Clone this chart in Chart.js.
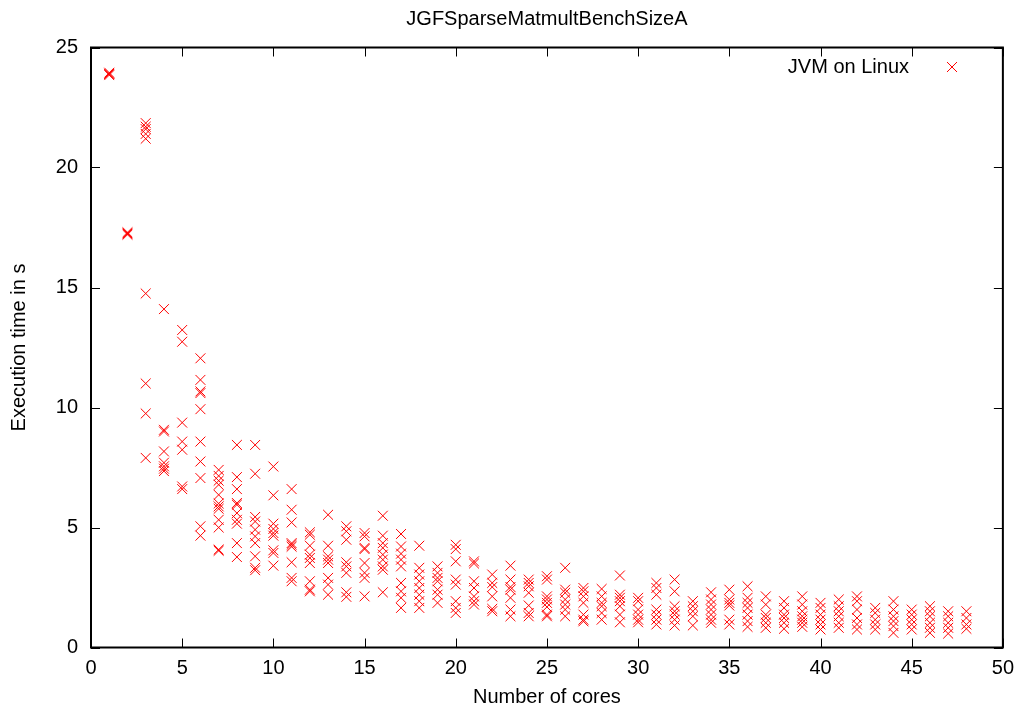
<!DOCTYPE html>
<html>
<head>
<meta charset="utf-8">
<script src="https://cdn.jsdelivr.net/npm/chart.js@4"></script>
<style>
  html, body { margin: 0; padding: 0; background: #fff; }
  #wrap { width: 1023px; height: 709px; }
</style>
</head>
<body>
<div id="wrap"><canvas id="chart" width="1023" height="709"></canvas></div>
<script>
// number of cores, one entry per column of measurements
var cores = [];
for (let c = 1; c <= 48; c += 1) cores.push(c);

// execution times (s), one list per core count
var times = [
  [23.95, 23.9, 23.85, 23.9],
  [17.25, 17.2, 17.3],
  [21.85, 21.7, 21.6, 21.4, 21.2, 14.75, 11.0, 9.75, 7.9],
  [14.1, 9.07, 9.0, 8.17, 7.7, 7.55, 7.45, 7.35],
  [13.23, 12.74, 9.37, 8.58, 8.24, 6.71, 6.6],
  [12.05, 11.15, 10.67, 10.6, 9.93, 8.58, 7.75, 7.06, 5.05, 4.66],
  [7.4, 7.15, 6.95, 6.78, 6.36, 6.0, 5.88, 5.78, 5.32, 5.0, 4.08, 4.03],
  [8.44, 7.1, 6.6, 6.02, 5.95, 5.6, 5.32, 5.16, 4.35, 3.77],
  [8.44, 7.24, 5.44, 5.25, 4.91, 4.63, 4.35, 3.8, 3.32, 3.22],
  [7.54, 6.34, 5.16, 4.94, 4.77, 4.66, 4.05, 3.94, 3.41],
  [6.6, 5.74, 5.21, 4.35, 4.28, 4.2, 3.55, 2.9, 2.76],
  [4.8, 4.7, 4.24, 3.87, 3.73, 3.52, 2.76, 2.41, 2.34],
  [5.53, 4.24, 3.8, 3.66, 3.52, 2.9, 2.62, 2.2],
  [5.05, 4.84, 4.49, 3.55, 3.38, 3.11, 2.3, 2.11],
  [4.77, 4.63, 4.15, 4.1, 3.52, 3.11, 2.9, 2.13],
  [5.49, 4.66, 4.35, 4.15, 3.87, 3.66, 3.38, 3.24, 2.3],
  [4.73, 4.21, 3.91, 3.66, 3.38, 2.69, 2.34, 2.07, 1.65],
  [4.24, 3.32, 3.04, 2.76, 2.48, 2.2, 1.93, 1.65],
  [3.38, 3.11, 2.9, 2.76, 2.41, 2.2, 1.86],
  [4.28, 4.1, 3.59, 2.83, 2.62, 1.93, 1.65, 1.44],
  [3.59, 3.5, 2.76, 2.48, 2.13, 1.93, 1.79],
  [3.04, 2.69, 2.52, 2.13, 1.61, 1.51],
  [3.41, 2.83, 2.52, 2.41, 2.07, 1.58, 1.3],
  [2.83, 2.69, 2.55, 2.28, 1.75, 1.44, 1.3],
  [2.97, 2.83, 2.13, 2.0, 1.86, 1.69, 1.37, 1.3],
  [3.32, 2.41, 2.28, 2.0, 1.79, 1.58, 1.3],
  [2.48, 2.34, 2.13, 1.86, 1.37, 1.16, 1.09],
  [2.44, 2.13, 1.86, 1.72, 1.44, 1.16],
  [3.0, 2.2, 2.07, 1.93, 1.72, 1.37, 1.05],
  [2.07, 1.93, 1.58, 1.37, 1.16, 1.05],
  [2.69, 2.48, 2.2, 1.58, 1.37, 1.16, 0.96],
  [2.83, 2.34, 1.72, 1.51, 1.37, 1.16, 0.92],
  [1.93, 1.72, 1.51, 1.3, 0.92],
  [2.3, 2.0, 1.79, 1.58, 1.37, 1.16, 1.03],
  [2.41, 2.0, 1.86, 1.75, 1.16, 0.96],
  [2.55, 2.07, 1.86, 1.65, 1.37, 1.1, 0.86],
  [2.13, 1.79, 1.37, 1.23, 1.03, 0.82],
  [1.93, 1.65, 1.37, 1.23, 1.03, 0.78],
  [2.13, 1.79, 1.51, 1.3, 1.16, 1.03, 0.86],
  [1.86, 1.65, 1.37, 1.16, 0.96, 0.75],
  [2.0, 1.72, 1.51, 1.3, 1.03, 0.82],
  [2.13, 1.93, 1.58, 1.23, 0.96, 0.75],
  [1.65, 1.44, 1.16, 0.96, 0.75],
  [1.93, 1.58, 1.3, 1.1, 0.89, 0.61],
  [1.58, 1.37, 1.16, 0.96, 0.75],
  [1.72, 1.51, 1.3, 1.03, 0.82, 0.61],
  [1.51, 1.3, 1.03, 0.82, 0.58],
  [1.51, 1.23, 0.96, 0.78]
];

var xTicks = [0, 5, 10, 15, 20, 25, 30, 35, 40, 45, 50];
var yTicks = [0, 5, 10, 15, 20, 25];
var seriesName = "JVM on Linux";
var chartTitle = "JGFSparseMatmultBenchSizeA";

var points = [];
for (let i = 0; i < cores.length; i += 1) {
  for (let j = 0; j < times[i].length; j += 1) {
    points.push({ x: cores[i], y: times[i][j] });
  }
}

var FONT = "'Liberation Sans', Arial, sans-serif";
var FS = 20;

// gnuplot style: title centred over the plot, border + inward ticks, legend inside
var framePlugin = {
  id: "frame",
  afterDatasetsDraw: function (chart) {
    var ctx = chart.ctx;
    var a = chart.chartArea;
    var xs = chart.scales.x, ys = chart.scales.y;
    var tl = 9;
    ctx.save();
    ctx.strokeStyle = "#000";
    ctx.lineWidth = 1;
    ctx.beginPath();
    xTicks.forEach(function (v) {
      var px = Math.round(xs.getPixelForValue(v)) + 0.5;
      ctx.moveTo(px, a.bottom); ctx.lineTo(px, a.bottom - tl);
      ctx.moveTo(px, a.top); ctx.lineTo(px, a.top + tl);
    });
    yTicks.forEach(function (v) {
      var py = Math.round(ys.getPixelForValue(v)) + 0.5;
      ctx.moveTo(a.left, py); ctx.lineTo(a.left + tl, py);
      ctx.moveTo(a.right, py); ctx.lineTo(a.right - tl, py);
    });
    ctx.stroke();
    ctx.lineWidth = 2;
    ctx.strokeRect(a.left, a.top, a.right - a.left, a.bottom - a.top);

    ctx.font = FS + "px " + FONT;
    ctx.fillStyle = "#000";
    ctx.textBaseline = "alphabetic";

    // title
    ctx.textAlign = "center";
    ctx.fillText(chartTitle, (a.left + a.right) / 2, 25);

    // legend
    ctx.textAlign = "right";
    ctx.fillText(seriesName, 909, 72.5);
    var mx = 952, my = 67, r = 5;
    ctx.strokeStyle = "red";
    ctx.lineWidth = 1;
    ctx.beginPath();
    ctx.moveTo(mx - r, my - r); ctx.lineTo(mx + r, my + r);
    ctx.moveTo(mx - r, my + r); ctx.lineTo(mx + r, my - r);
    ctx.stroke();
    ctx.restore();
  }
};

var chart = new Chart(document.getElementById("chart").getContext("2d"), {
  type: "scatter",
  data: {
    datasets: [
      {
        label: seriesName,
        data: points,
        pointStyle: "crossRot",
        pointRadius: 7,
        pointHoverRadius: 7,
        borderColor: "red",
        backgroundColor: "red",
        borderWidth: 1
      }
    ]
  },
  options: {
    responsive: false,
    animation: false,
    layout: { padding: { top: 47.5, right: 19, bottom: 0, left: 0 } },
    plugins: {
      legend: { display: false },
      tooltip: { enabled: false },
      title: { display: false }
    },
    scales: {
      x: {
        type: "linear",
        min: 0,
        max: 50,
        afterBuildTicks: function (s) { s.ticks = xTicks.map(function (v) { return { value: v }; }); },
        afterFit: function (s) { s.height = 61.5; },
        grid: { display: false, drawTicks: false },
        border: { display: false },
        ticks: { color: "#000", padding: 9, maxRotation: 0, font: { family: FONT, size: FS } },
        title: { display: true, text: "Number of cores", color: "#000", padding: { top: 4, bottom: 0 }, font: { family: FONT, size: FS } }
      },
      y: {
        type: "linear",
        min: 0,
        max: 25,
        afterBuildTicks: function (s) { s.ticks = yTicks.map(function (v) { return { value: v }; }); },
        afterFit: function (s) { s.width = 91; },
        grid: { display: false, drawTicks: false },
        border: { display: false },
        ticks: { color: "#000", padding: 13, font: { family: FONT, size: FS } },
        title: { display: true, text: "Execution time in s", color: "#000", padding: { top: 7, bottom: 0 }, font: { family: FONT, size: FS } }
      }
    }
  },
  plugins: [framePlugin]
});
</script>
</body>
</html>
